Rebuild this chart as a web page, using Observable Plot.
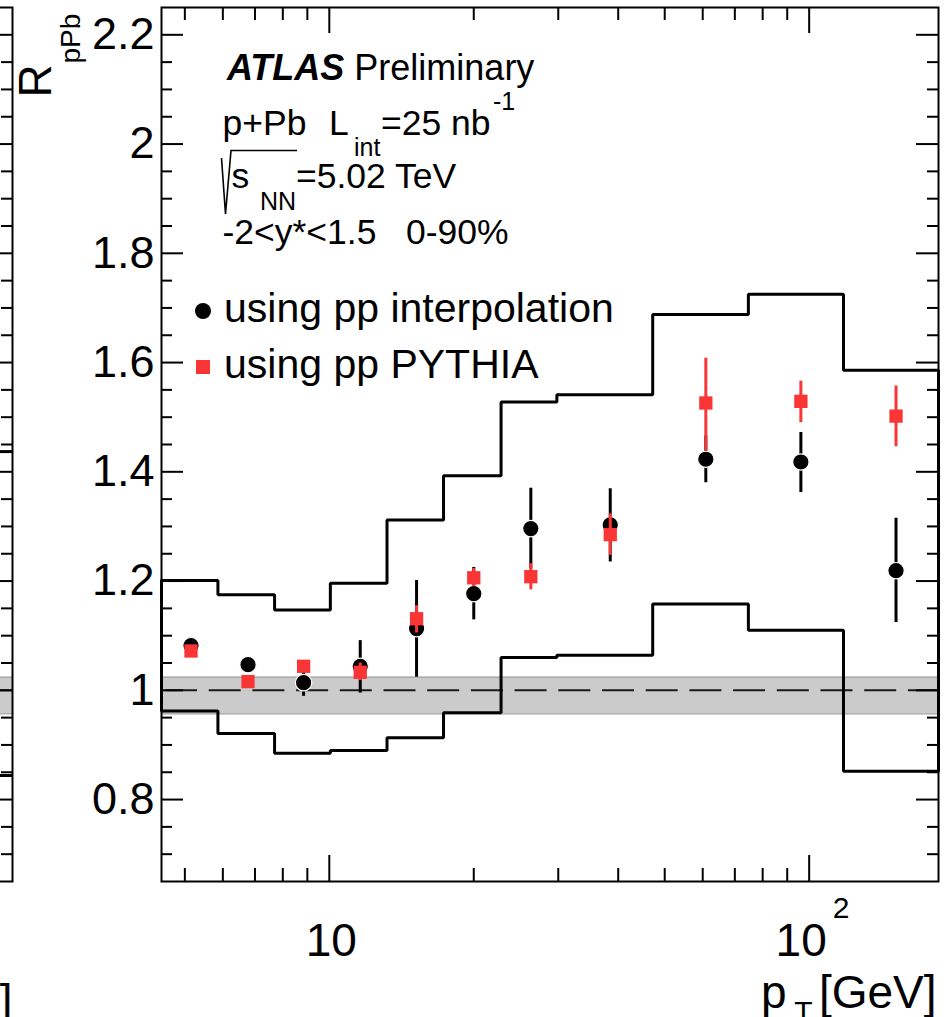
<!DOCTYPE html>
<html>
<head>
<meta charset="utf-8">
<script src="https://cdn.jsdelivr.net/npm/d3@7"></script>
<script src="https://cdn.jsdelivr.net/npm/@observablehq/plot@0.6"></script>
<style>
  html, body { margin: 0; padding: 0; background: #fff; }
  #chart { position: relative; width: 944px; height: 1017px; overflow: hidden;
           font-family: "Liberation Sans", Arial, Helvetica, sans-serif; color: #000; }
  #chart svg { position: absolute; }
  .lbl { position: absolute; white-space: pre; line-height: 1; }
</style>
</head>
<body>
<div id="chart"></div>
<script>
// ---------------- data ----------------
const xDomain = [4.47, 186];
const yDomain = [0.65, 2.25];

// pT bin edges of the systematic-uncertainty boxes
const binEdges = [4.47, 5.86, 7.69, 10.05, 13.19, 17.3, 22.8, 29.8, 47.2, 74.7, 117.9, 186];
const sysUpper = [1.201, 1.175, 1.147, 1.196, 1.312, 1.393, 1.528, 1.541, 1.688, 1.725, 1.586];
const sysLower = [0.962, 0.921, 0.885, 0.890, 0.913, 0.959, 1.060, 1.064, 1.158, 1.110, 0.852];

// points
const ptCenters   = [5.15, 6.77, 8.84, 11.6, 15.2, 20.0, 26.3, 38.5, 60.9, 96.1, 151.7];
const interpValue = [1.082, 1.047, 1.014, 1.044, 1.113, 1.177, 1.296, 1.303, 1.423, 1.418, 1.219];
const interpLow   = [1.074, 1.039, 0.989, 0.995, 1.024, 1.129, 1.222, 1.235, 1.380, 1.362, 1.124];
const interpHigh  = [1.090, 1.055, 1.039, 1.091, 1.201, 1.225, 1.370, 1.369, 1.466, 1.472, 1.315];
const pythiaValue = [1.072, 1.016, 1.044, 1.033, 1.131, 1.206, 1.208, 1.285, 1.526, 1.529, 1.502];
const pythiaLow   = [1.066, 1.010, 1.038, 1.018, 1.105, 1.190, 1.184, 1.247, 1.438, 1.490, 1.446];
const pythiaHigh  = [1.078, 1.022, 1.050, 1.050, 1.155, 1.223, 1.232, 1.323, 1.608, 1.566, 1.557];

// normalisation band around unity
const bandLow = 0.957, bandHigh = 1.024;

// neighbouring (left) panel: last systematic box edges visible at the border
const prevUpper = 1.437, prevLower = 0.844;

// ticks
const yMajor = [0.8, 1.0, 1.2, 1.4, 1.6, 1.8, 2.0, 2.2];
const yTickLabels = ["0.8", "1", "1.2", "1.4", "1.6", "1.8", "2", "2.2"];
const yMinor = [0.7, 0.75, 0.85, 0.9, 0.95, 1.05, 1.1, 1.15, 1.25, 1.3, 1.35, 1.45, 1.5, 1.55,
                1.65, 1.7, 1.75, 1.85, 1.9, 1.95, 2.05, 2.1, 2.15];
const xMajor = [10, 100];
const xTickBase = ["10", "10"];
const xTickExp = ["", "2"];
const xMinor = [5, 6, 7, 8, 9, 20, 30, 40, 50, 60, 70, 80, 90];

const legendLabels = ["using pp interpolation", "using pp PYTHIA"];

// ---------------- build ----------------
const FONT = '"Liberation Sans", Arial, Helvetica, sans-serif';
const RED = "#f93535";
const W = 944, H = 1017, mL = 161, mR = 6, mT = 7, mB = 136;
const innerW = W - mL - mR, innerH = H - mT - mB;

const points = ptCenters.map((pt, i) => ({
  pt, iv: interpValue[i], ilo: interpLow[i], ihi: interpHigh[i],
  pv: pythiaValue[i], plo: pythiaLow[i], phi: pythiaHigh[i]
}));

const sysOutline = [];
for (let i = 0; i < sysUpper.length; i++)
  sysOutline.push({pt: binEdges[i], r: sysUpper[i]}, {pt: binEdges[i + 1], r: sysUpper[i]});
for (let i = sysLower.length - 1; i >= 0; i--)
  sysOutline.push({pt: binEdges[i + 1], r: sysLower[i]}, {pt: binEdges[i], r: sysLower[i]});
sysOutline.push(sysOutline[0]);

const band = [{lo: bandLow, hi: bandHigh}];
const tickStyle = {stroke: "black", strokeWidth: 2};
const TXT = {lineAnchor: "middle"};

const main = Plot.plot({
  width: W, height: H,
  marginLeft: mL, marginRight: mR, marginTop: mT, marginBottom: mB,
  x: {type: "log", domain: xDomain, axis: null},
  y: {domain: yDomain, axis: null},
  style: {fontFamily: FONT, background: "transparent", color: "black"},
  marks: [
    Plot.rect(band, {y1: "lo", y2: "hi", fill: "#cbcbcb"}),
    Plot.ruleY([bandLow, bandHigh], {y: d => d, stroke: "#a0a0a0", strokeWidth: 1.2}),
    Plot.ruleY([1], {y: d => d, stroke: "#1a1a1a", strokeWidth: 2, strokeDasharray: "32,11.7", strokeDashoffset: -4}),
    Plot.line(sysOutline, {x: "pt", y: "r", stroke: "black", strokeWidth: 3, strokeLinejoin: "miter"}),
    Plot.ruleX(points, {x: "pt", y1: "ilo", y2: "ihi", stroke: "black", strokeWidth: 3}),
    Plot.dot(points, {x: "pt", y: "iv", r: 8.2, fill: "black", stroke: "white", strokeWidth: 1.2}),
    Plot.ruleX(points, {x: "pt", y1: "plo", y2: "phi", stroke: RED, strokeWidth: 3}),
    Plot.dot(points, {x: "pt", y: "pv", symbol: "square", r: 7.5, fill: RED, stroke: "none"}),
    // inward ticks on all four sides
    Plot.tickY(yMajor, {y: d => d, insetRight: innerW - 22, ...tickStyle}),
    Plot.tickY(yMajor, {y: d => d, insetLeft: innerW - 22, ...tickStyle}),
    Plot.tickY(yMinor, {y: d => d, insetRight: innerW - 11, ...tickStyle}),
    Plot.tickY(yMinor, {y: d => d, insetLeft: innerW - 11, ...tickStyle}),
    Plot.tickX(xMajor, {x: d => d, insetTop: innerH - 26, ...tickStyle}),
    Plot.tickX(xMajor, {x: d => d, insetBottom: innerH - 26, ...tickStyle}),
    Plot.tickX(xMinor, {x: d => d, insetTop: innerH - 13, ...tickStyle}),
    Plot.tickX(xMinor, {x: d => d, insetBottom: innerH - 13, ...tickStyle}),
    Plot.frame({stroke: "black", strokeWidth: 2}),
    // tick labels
    Plot.text(yMajor, {y: d => d, text: (d, i) => yTickLabels[i], frameAnchor: "left",
                       textAnchor: "end", dx: -7, fontSize: 45, ...TXT}),
    Plot.text([xMajor[0]], {x: d => d, text: () => xTickBase[0] + xTickExp[0], frameAnchor: "bottom",
                            dx: 2, dy: 60, fontSize: 46, ...TXT}),
    Plot.text([xMajor[1]], {x: d => d, text: () => xTickBase[1], frameAnchor: "bottom",
                            dx: -8, dy: 60, fontSize: 46, ...TXT}),
    Plot.text([xMajor[1]], {x: d => d, text: () => xTickExp[1], frameAnchor: "bottom",
                            dx: 32, dy: 27, fontSize: 30, ...TXT}),
    // axis titles
    Plot.text(["[GeV]"], {text: d => d, frameAnchor: "bottom-right", textAnchor: "end",
                          dx: -2, dy: 112, fontSize: 46, ...TXT}),
    Plot.text(["T"], {text: d => d, frameAnchor: "bottom-right", textAnchor: "end",
                      dx: -126, dy: 131, fontSize: 30, ...TXT}),
    Plot.text(["p"], {text: d => d, frameAnchor: "bottom-right", textAnchor: "end",
                      dx: -152, dy: 112, fontSize: 46, ...TXT}),
    Plot.text(["R"], {text: d => d, frameAnchor: "top-left", textAnchor: "start", rotate: -90,
                      dx: -125.7, dy: 90, fontSize: 46, ...TXT}),
    Plot.text(["pPb"], {text: d => d, frameAnchor: "top-left", textAnchor: "start", rotate: -90,
                        dx: -90, dy: 56, fontSize: 28, ...TXT})
  ]
});
main.style.left = "0px";
main.style.top = "0px";

// sliver of the neighbouring panel at the far left
const SW = 20;
const sliver = Plot.plot({
  width: SW, height: H,
  marginLeft: 0, marginRight: 0, marginTop: mT, marginBottom: mB,
  x: {domain: [0, 1], axis: null},
  y: {domain: yDomain, axis: null},
  style: {fontFamily: FONT, background: "transparent", overflow: "visible"},
  marks: [
    Plot.rect(band, {y1: "lo", y2: "hi", fill: "#cbcbcb"}),
    Plot.ruleY([bandLow, bandHigh], {y: d => d, stroke: "#a0a0a0", strokeWidth: 1.2}),
    Plot.ruleY([1], {y: d => d, stroke: "#1a1a1a", strokeWidth: 2, strokeDasharray: "32,11.7"}),
    Plot.ruleY([prevUpper, prevLower], {y: d => d, stroke: "black", strokeWidth: 3}),
    Plot.tickY(yMajor, {y: d => d, ...tickStyle}),
    Plot.tickY(yMinor, {y: d => d, insetLeft: SW - 11, ...tickStyle}),
    Plot.frame({stroke: "black", strokeWidth: 2}),
    Plot.text(["[GeV]"], {text: d => d, frameAnchor: "bottom-right", textAnchor: "end",
                          dx: 0, dy: 121, fontSize: 46, ...TXT})
  ]
});
sliver.style.left = (11.7 - SW) + "px";
sliver.style.top = "0px";

const chart = document.getElementById("chart");
chart.appendChild(sliver);
chart.appendChild(main);

// ---------------- text overlay (annotation + legend) ----------------
function addText(html, left, baseline, size, extra = {}) {
  const d = document.createElement("div");
  d.className = "lbl";
  d.style.left = left + "px";
  d.style.top = (baseline - 0.8465 * size) + "px";
  d.style.fontSize = size + "px";
  Object.assign(d.style, extra);
  d.innerHTML = html;
  chart.appendChild(d);
}
addText("<b><i>ATLAS</i></b> Preliminary", 227, 80, 36);
addText("p+Pb", 222.6, 136, 35.5);
addText("L", 329, 136, 35.5);
addText("int", 354, 156, 25);
addText("=25 nb", 381, 136, 35.5);
addText("-1", 493, 110, 25);
addText("s", 231.5, 189, 35.5);
addText("NN", 260, 210, 25);
addText("=5.02 TeV", 296, 189, 35.5);
addText("-2&lt;y*&lt;1.5   0-90%", 222.5, 245, 35.5);

// square-root sign
const ns = "http://www.w3.org/2000/svg";
const rad = document.createElementNS(ns, "svg");
rad.setAttribute("width", W); rad.setAttribute("height", H);
rad.style.left = "0px"; rad.style.top = "0px";
const pl = document.createElementNS(ns, "polyline");
pl.setAttribute("points", "221.5,158 225.5,214 231,150.5 297,150.5");
pl.setAttribute("fill", "none"); pl.setAttribute("stroke", "black"); pl.setAttribute("stroke-width", "1.6");
rad.appendChild(pl);
chart.appendChild(rad);

// legend
const sw1 = document.createElement("div");
Object.assign(sw1.style, {position: "absolute", left: (203 - 8.2) + "px", top: (311 - 8.2) + "px",
  width: "16.4px", height: "16.4px", borderRadius: "50%", background: "black"});
chart.appendChild(sw1);
const sw2 = document.createElement("div");
Object.assign(sw2.style, {position: "absolute", left: (203 - 6.7) + "px", top: (367 - 6.7) + "px",
  width: "13.4px", height: "13.4px", background: RED});
chart.appendChild(sw2);
addText(legendLabels[0], 224, 323, 41);
addText(legendLabels[1], 224, 379, 41);
</script>
</body>
</html>
